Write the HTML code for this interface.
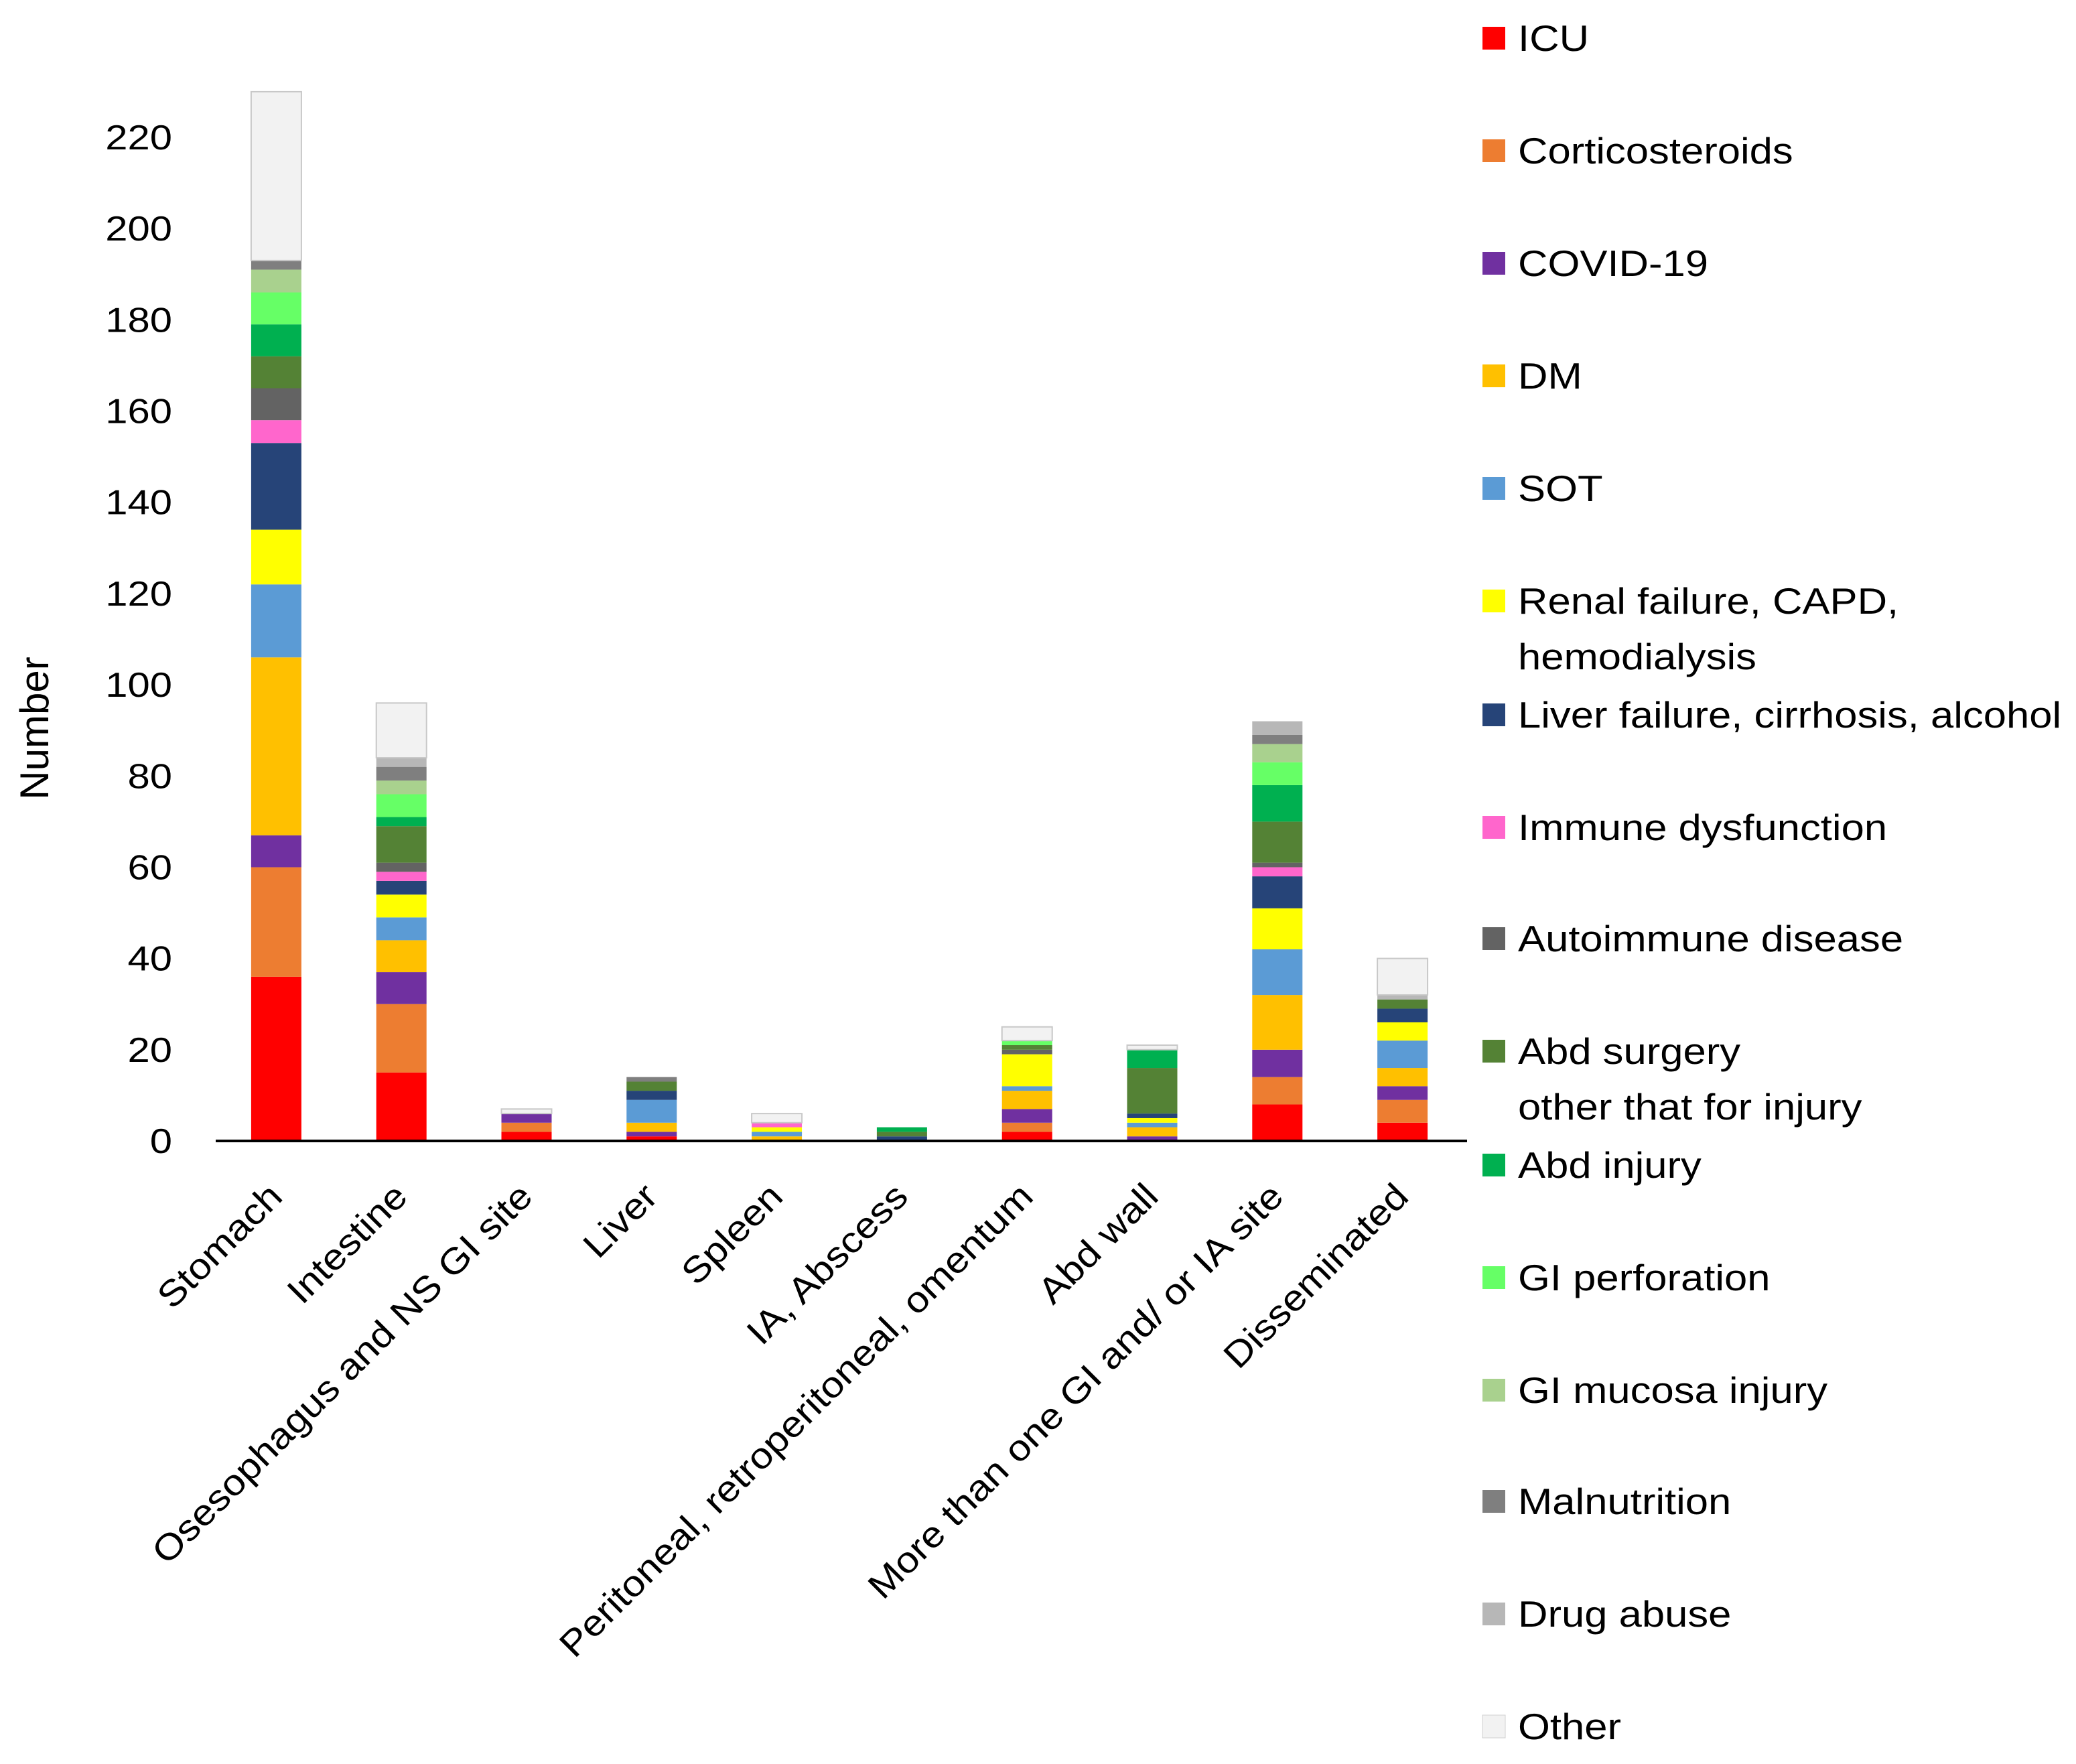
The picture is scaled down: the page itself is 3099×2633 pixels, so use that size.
<!DOCTYPE html>
<html><head><meta charset="utf-8">
<style>
html,body{margin:0;padding:0;background:#fff;}
svg{display:block;font-family:"Liberation Sans","DejaVu Sans",sans-serif;}
</style></head>
<body>
<svg id="chart" width="3099" height="2633" viewBox="0 0 3099 2633" xmlns="http://www.w3.org/2000/svg">
<g id="bars"></g>
<g id="axes"></g>
<g id="legend"></g>
<text x="0" y="0" transform="translate(72,1087) rotate(-90)" font-size="60" text-anchor="middle">Number</text>
</svg>
<script>
const categories = ["Stomach","Intestine","Osesophagus and NS GI site","Liver","Spleen","IA, Abscess","Peritoneal, retroperitoneal, omentum","Abd wall","More  than one GI and/ or IA site","Disseminated"];
const seriesNames = ["ICU","Corticosteroids","COVID-19","DM","SOT","Renal failure, CAPD,|hemodialysis","Liver failure, cirrhosis, alcohol","Immune dysfunction","Autoimmune disease","Abd surgery|other that for injury","Abd injury","GI perforation","GI mucosa injury","Malnutrition","Drug abuse","Other"];
const seriesColors = ["#ff0000","#ed7d31","#7030a0","#ffc000","#5b9bd5","#ffff00","#264478","#ff66cc","#636363","#548235","#00b050","#66ff66","#a9d18e","#7f7f7f","#b7b7b7","#f2f2f2"];
const icu        = [36,15,2,1,0,0,2,0,8,4];
const cortico    = [24,15,2,0,0,0,2,0,6,5];
const covid      = [7,7,2,1,0,0,3,1,6,3];
const dm         = [39,7,0,2,1,0,4,2,12,4];
const sot        = [16,5,0,5,1,0,1,1,10,6];
const renal      = [12,5,0,0,1,0,7,1,9,4];
const liverFail  = [19,3,0,2,0,1,0,1,7,3];
const immune     = [5,2,0,0,1,0,0,0,2,0];
const autoimmune = [7,2,0,0,0,0,1,0,1,0];
const abdSurgery = [7,8,0,2,0,1,1,10,9,2];
const abdInjury  = [7,2,0,0,0,1,0,4,8,0];
const giPerf     = [7,5,0,0,0,0,1,0,5,0];
const giMucosa   = [5,3,0,0,0,0,0,0,4,0];
const malnut     = [2,3,0,1,0,0,0,0,2,0];
const drugAbuse  = [0,2,0,0,0,0,0,0,3,1];
const other      = [37,12,1,0,2,0,3,1,0,8];
const yTicks = [0,20,40,60,80,100,120,140,160,180,200,220];

const series = [icu,cortico,covid,dm,sot,renal,liverFail,immune,autoimmune,abdSurgery,abdInjury,giPerf,giMucosa,malnut,drugAbuse,other];
const NS = "http://www.w3.org/2000/svg";
const X0 = 322, X1 = 2190, Y0 = 1703, PX_PER = (1703-205)/220;
const yScale = v => Y0 - v*PX_PER;
const step = (X1-X0)/categories.length;
const xCenter = i => X0 + step*(i+0.5) - 3;
const BW = 75;
function mk(tag, attrs, parent){const e=document.createElementNS(NS,tag);for(const k in attrs)e.setAttribute(k,attrs[k]);parent.appendChild(e);return e;}

const gb = document.getElementById('bars');
categories.forEach((c,i)=>{
  let cum = 0;
  series.forEach((s,j)=>{
    const v = s[i];
    if(!v) return;
    const r = mk('rect',{x:xCenter(i)-BW/2,y:yScale(cum+v),width:BW,height:yScale(cum)-yScale(cum+v),fill:seriesColors[j],stroke:j===15?'#c8c8c8':'none','stroke-width':2},gb);
    
    
    cum += v;
  });
});

const ga = document.getElementById('axes');
const axl = mk('line',{x1:X0,x2:X1,y1:Y0,y2:Y0,stroke:'#000','stroke-width':4},ga);


yTicks.forEach(t=>{
  const tx = mk('text',{x:0,y:0,'font-size':52,'text-anchor':'end',transform:`translate(257,${yScale(t)+18}) scale(1.15,1)`},ga);
  tx.textContent = t;
  
  
});
categories.forEach((c,i)=>{
  const x = xCenter(i)+12, y = Y0+86;
  const tx = mk('text',{x:0,y:0,'font-size':54,'text-anchor':'end',transform:`translate(${x},${y}) rotate(-45) scale(1.11,1)`},ga);
  tx.textContent = c;
  
  
});

const gl = document.getElementById('legend');
const legendY = [57,225,393,561,729,897,1067,1235,1401,1569,1739,1907,2075,2241,2409,2577];
seriesNames.forEach((n,j)=>{
  const g = mk('g',{},gl);
  
  
  const cy = legendY[j];
  mk('rect',{x:2213,y:cy-17,width:34,height:34,fill:seriesColors[j],stroke:j===15?'#d0d0d0':'none','stroke-width':1},g);
  n.split('|').forEach((line,k)=>{
    const tx = mk('text',{x:0,y:0,'font-size':55,fill:'#000',transform:`translate(2266,${cy+19+k*83}) scale(1.12,1)`},g);
    tx.textContent = line;
  });
});
</script>
</body></html>
